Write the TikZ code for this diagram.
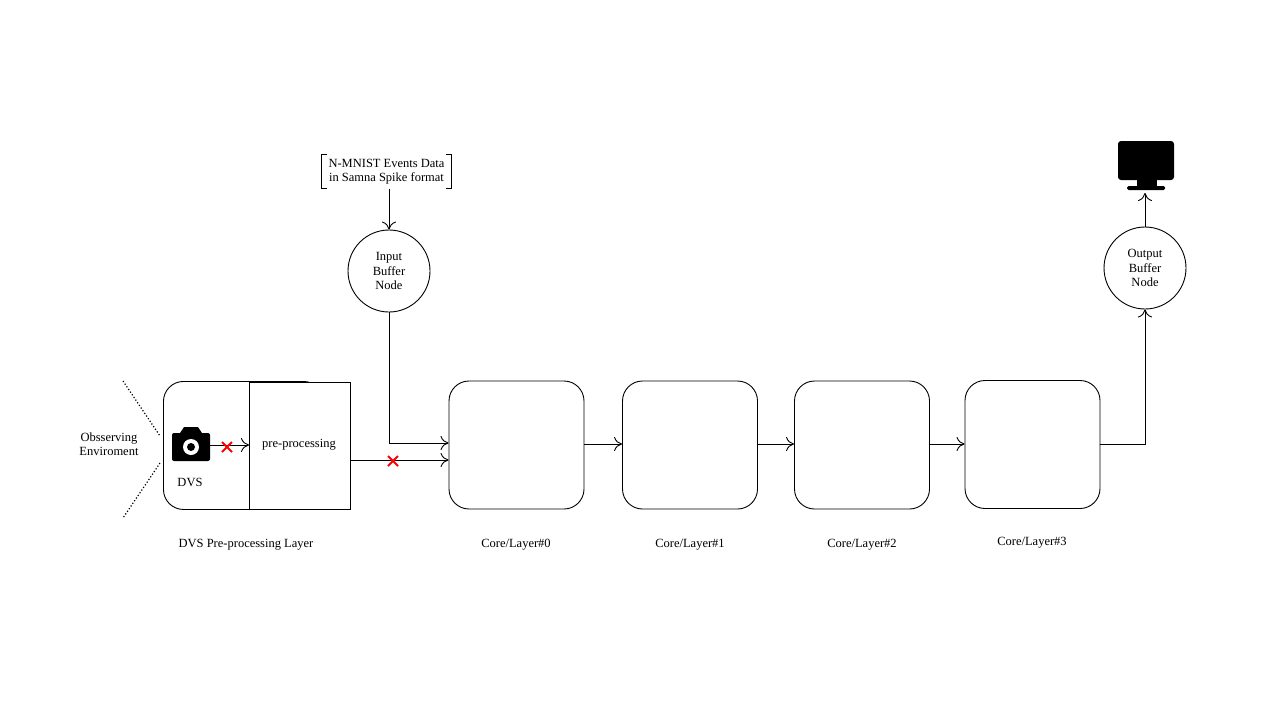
\documentclass[tikz,border=0pt]{standalone}
\usepackage{fontspec}
\setmainfont{Liberation Serif}
\usetikzlibrary{arrows.meta}
\begin{document}
\begin{tikzpicture}[x=1pt,y=-1pt,font=\fontsize{12.5}{14.5}\selectfont,line width=0.9pt,
  core/.style={draw,rounded corners=20pt,minimum width=135pt,minimum height=128pt},
  buf/.style={draw,circle,minimum size=82pt,align=center,inner sep=0pt},
  arr/.style={-{To[length=8pt,width=14pt]},line width=0.9pt},
  redx/.style={draw=red,line width=2pt}]
\useasboundingbox (0,0) rectangle (1280,720);
\node[draw,rounded corners=20pt,minimum width=160pt,minimum height=128pt,anchor=north west] (dvs) at (163,381) {};
\node[draw,fill=white,minimum width=101pt,minimum height=127pt,anchor=north west] (pre) at (249,382) {};
\node at (299,445) {pre-processing};
% camera
\fill[rounded corners=2pt] (172,433) rectangle (210,461);
\fill (180,433) -- (184,427) -- (198,427) -- (202,433) -- cycle;
\fill[white] (191,447) circle (8);
\fill (191,447) circle (4);
\coordinate (cam) at (210,445);
\draw[arr] (cam) -- (pre.west |- cam);
\coordinate (x1) at (227,447);
\draw[redx] ([shift={(-5,-5)}]x1) -- ([shift={(5,5)}]x1) ([shift={(-5,5)}]x1) -- ([shift={(5,-5)}]x1);
\node (dvslbl) at (190,482) {DVS};
\node[align=center] (obs) at (109,444) {Obsserving\\Enviroment};
\coordinate (d1) at (123,381); \coordinate (d2) at (160,436);
\coordinate (d3) at (160,463); \coordinate (d4) at (123,518);
\draw[dotted,line width=1.2pt] (d1) -- (d2); \draw[dotted,line width=1.2pt] (d3) -- (d4);
% cores
\node[core] (c0) at (516.5,445) {};
\node[core] (c1) at (690,445) {};
\node[core] (c2) at (862,445) {};
\node[core] (c3) at (1032.5,444.5) {};
\node at (246,545) {DVS Pre-processing Layer};
\node at (516,545) {Core/Layer\#0};
\node at (690,545) {Core/Layer\#1};
\node at (862,545) {Core/Layer\#2};
\node at (1032,543) {Core/Layer\#3};
\coordinate (p1) at (350,460);
\draw[arr] (p1) -- (c0.west |- p1);
\coordinate (x2) at (393,461);
\draw[redx] ([shift={(-5,-5)}]x2) -- ([shift={(5,5)}]x2) ([shift={(-5,5)}]x2) -- ([shift={(5,-5)}]x2);
\draw[arr] (c0.east |- 0,444) -- (c1.west |- 0,444);
\draw[arr] (c1.east |- 0,444) -- (c2.west |- 0,444);
\draw[arr] (c2.east |- 0,444) -- (c3.west |- 0,444);
% input
\node[buf] (in) at (389,271) {Input\\Buffer\\Node};
\node[align=center,inner xsep=7pt,inner ysep=4pt] (data) at (386.5,171.5) {N-MNIST Events Data\\in Samna Spike format};
\draw ([xshift=6pt]data.north west) -- (data.north west) -- (data.south west) -- ([xshift=6pt]data.south west);
\draw ([xshift=-6pt]data.north east) -- (data.north east) -- (data.south east) -- ([xshift=-6pt]data.south east);
\draw[arr] (in.north |- data.south) -- (in.north);
\draw[arr] (in.south) -- (389,443) -- (c0.west |- 0,443);
% output
\node[buf] (out) at (1145,268) {Output\\Buffer\\Node};
\draw[arr] (c3.east |- 0,444) -- (1145,444) -- (out.south);
\fill[rounded corners=3pt] (1118,141) rectangle (1174,180);
\fill (1137,179) rectangle (1157,187);
\fill[rounded corners=1.5pt] (1127,186) rectangle (1165,190);
\coordinate (mon) at (1145,193);
\draw[arr] (out.north) -- (mon);
\end{tikzpicture}
\end{document}
